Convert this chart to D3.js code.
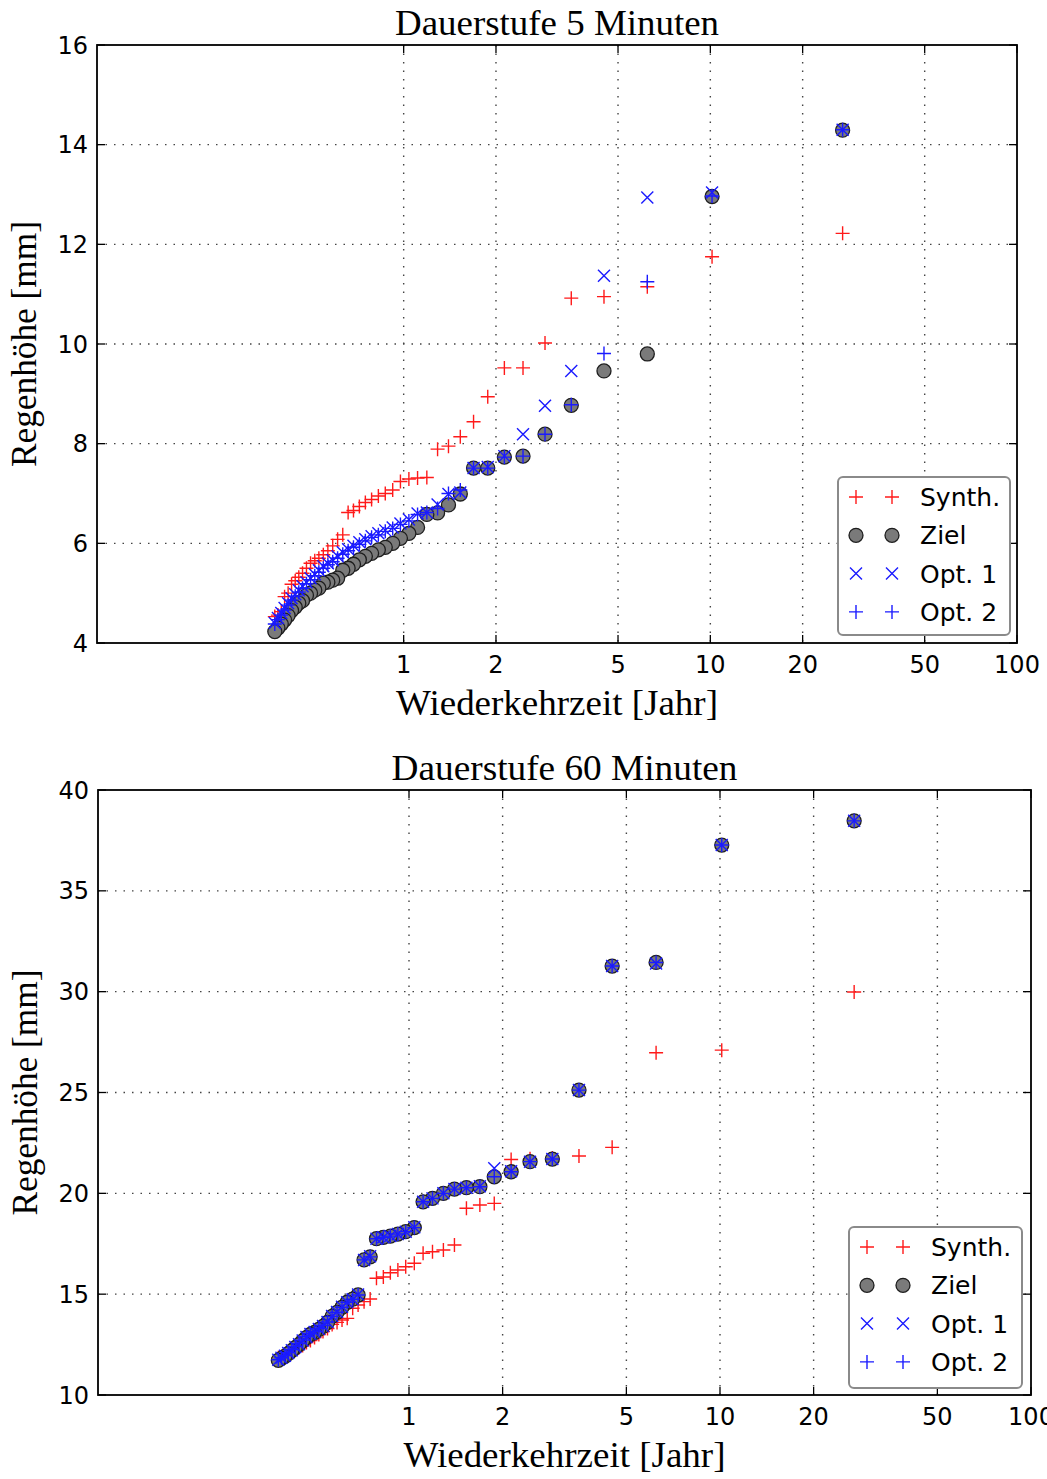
<!DOCTYPE html>
<html>
<head>
<meta charset="utf-8">
<script src="https://cdn.jsdelivr.net/npm/d3@7"></script>
<style>
  body { margin: 0; background: #fff; }
</style>
</head>
<body>
<div id="chart"></div>
<script>
// ---------------- data ----------------
// return period (years) of each rank, read off the x positions
const returnPeriod = [27.0, 10.13, 6.23, 4.50, 3.52, 2.89, 2.45, 2.13, 1.88, 1.69, 1.53, 1.40, 1.29, 1.19, 1.11,
  1.04, 0.976, 0.921, 0.871, 0.827, 0.786, 0.750, 0.717, 0.686, 0.659, 0.633, 0.609, 0.587, 0.566, 0.547,
  0.529, 0.513, 0.497, 0.482, 0.468, 0.455, 0.443, 0.431, 0.420, 0.409, 0.399, 0.389, 0.380];

const xTicks = [1, 2, 5, 10, 20, 50, 100];
const yTicks5 = [4, 6, 8, 10, 12, 14, 16];
const yTicks60 = [10, 15, 20, 25, 30, 35, 40];
const seriesNames = ["Synth.", "Ziel", "Opt. 1", "Opt. 2"];

// Dauerstufe 5 Minuten
const synth5 = [12.22, 11.75, 11.15, 10.95, 10.92, 10.02, 9.52, 9.52, 8.94, 8.44, 8.14, 7.95, 7.89, 7.32, 7.31,
  7.29, 7.24, 7.07, 7.00, 6.95, 6.88, 6.82, 6.74, 6.66, 6.62, 6.17, 6.08, 5.95, 5.85, 5.77,
  5.70, 5.65, 5.60, 5.50, 5.40, 5.32, 5.25, 5.18, 5.00, 4.93, 4.63, 4.56, 4.53];
const ziel5 = [14.29, 12.96, 9.80, 9.46, 8.77, 8.19, 7.75, 7.73, 7.51, 7.51, 6.99, 6.77, 6.61, 6.58, 6.32,
  6.20, 6.10, 6.00, 5.92, 5.87, 5.80, 5.74, 5.67, 5.58, 5.50, 5.46, 5.30, 5.26, 5.22, 5.20,
  5.10, 5.06, 5.00, 4.96, 4.85, 4.80, 4.72, 4.65, 4.55, 4.46, 4.38, 4.30, 4.23];
const opt1_5 = [14.30, 13.04, 12.94, 11.37, 9.46, 8.76, 8.19, 7.75, 7.53, 7.51, 7.02, 6.99, 6.78, 6.62, 6.60,
  6.48, 6.40, 6.32, 6.26, 6.20, 6.14, 6.08, 6.02, 5.95, 5.88, 5.82, 5.74, 5.66, 5.60, 5.54,
  5.46, 5.38, 5.30, 5.22, 5.14, 5.06, 4.98, 4.90, 4.80, 4.70, 4.60, 4.50, 4.40];
const opt2_5 = [14.30, 12.97, 11.25, 9.81, 8.78, 8.19, 7.75, 7.73, 7.51, 7.51, 7.07, 7.00, 6.70, 6.62, 6.58,
  6.45, 6.38, 6.30, 6.24, 6.17, 6.12, 6.05, 5.98, 5.92, 5.85, 5.78, 5.70, 5.63, 5.57, 5.50,
  5.42, 5.35, 5.27, 5.19, 5.10, 5.02, 4.94, 4.86, 4.76, 4.66, 4.56, 4.47, 4.38];

// Dauerstufe 60 Minuten
const synth60 = [29.98, 27.10, 26.97, 22.28, 21.85, 21.75, 21.72, 21.68, 19.50, 19.42, 19.26, 17.44, 17.19, 17.10, 17.03,
  16.53, 16.36, 16.20, 16.06, 15.85, 15.79, 14.76, 14.63, 14.46, 14.30, 13.80, 13.72, 13.60, 13.50, 13.30,
  13.15, 13.00, 12.85, 12.70, 12.60, 12.45, 12.35, 12.25, 12.15, 12.05, 11.98, 11.90, 11.85];
const ziel60 = [38.47, 37.27, 31.45, 31.27, 25.12, 21.70, 21.57, 21.07, 20.82, 20.33, 20.28, 20.21, 20.00, 19.75, 19.58,
  18.30, 18.10, 17.98, 17.88, 17.82, 17.75, 16.85, 16.70, 14.96, 14.75, 14.60, 14.35, 14.10, 13.90, 13.60,
  13.40, 13.25, 13.10, 13.00, 12.85, 12.68, 12.50, 12.35, 12.20, 12.05, 11.92, 11.82, 11.72];
const opt1_60 = [38.47, 37.27, 31.40, 31.27, 25.12, 21.70, 21.57, 21.10, 21.24, 20.35, 20.28, 20.21, 20.00, 19.75, 19.58,
  18.32, 18.10, 17.98, 17.88, 17.82, 17.75, 16.88, 16.70, 14.98, 14.75, 14.60, 14.38, 14.12, 13.92, 13.62,
  13.42, 13.27, 13.12, 13.02, 12.88, 12.70, 12.52, 12.38, 12.22, 12.08, 11.95, 11.85, 11.75];
const opt2_60 = [38.47, 37.27, 31.45, 31.27, 25.12, 21.70, 21.57, 21.07, 20.82, 20.33, 20.28, 20.21, 20.00, 19.75, 19.58,
  18.30, 18.10, 17.98, 17.88, 17.82, 17.75, 16.85, 16.70, 14.96, 14.75, 14.60, 14.35, 14.10, 13.90, 13.62,
  13.45, 13.30, 13.15, 13.05, 12.90, 12.72, 12.55, 12.40, 12.25, 12.10, 11.96, 11.85, 11.75];

// ---------------- styles ----------------
const markerStyle = [
  { kind: "plus", color: "#ff1a1a" },
  { kind: "circle", fill: "#7a7a7a", stroke: "#1e1e1e" },
  { kind: "cross", color: "#1a1aff" },
  { kind: "plus", color: "#1a1aff" }
];
const SERIF = "'Liberation Serif', 'DejaVu Serif', serif";
const SANS = "'DejaVu Sans', sans-serif";

const svg = d3.select("#chart").append("svg")
  .attr("width", 1047)
  .attr("height", 1479);

//==================================================================
function drawMarker(g, style, x, y) {
  if (style.kind === "circle") {
    g.append("circle").attr("cx", x).attr("cy", y).attr("r", 7)
      .attr("fill", style.fill).attr("stroke", style.stroke).attr("stroke-width", 1.3);
    return;
  }
  const s = style.kind === "plus" ? 7 : 6;
  const d = style.kind === "plus"
    ? `M${x - s},${y}H${x + s}M${x},${y - s}V${y + s}`
    : `M${x - s},${y - s}L${x + s},${y + s}M${x - s},${y + s}L${x + s},${y - s}`;
  g.append("path").attr("d", d).attr("fill", "none")
    .attr("stroke", style.color).attr("stroke-width", 1.4);
}

//==================================================================
function drawPanel(cfg) {
  const g = svg.append("g");
  const x = d3.scaleLog().domain([0.1, 100]).range([cfg.left, cfg.right]);
  const y = d3.scaleLinear().domain(cfg.yDomain).range([cfg.bottom, cfg.top]);

  // grid
  g.append("g").selectAll("line").data(xTicks.filter(t => t < 100)).enter().append("line")
    .attr("x1", d => x(d)).attr("x2", d => x(d)).attr("y1", cfg.top).attr("y2", cfg.bottom)
    .attr("stroke", "#444").attr("stroke-width", 1.4).attr("stroke-dasharray", "1.5,7");
  g.append("g").selectAll("line").data(cfg.yTicks.slice(1, -1)).enter().append("line")
    .attr("x1", cfg.left).attr("x2", cfg.right).attr("y1", d => y(d)).attr("y2", d => y(d))
    .attr("stroke", "#444").attr("stroke-width", 1.4).attr("stroke-dasharray", "1.5,7");

  // markers, series by series
  cfg.series.forEach((vals, i) => {
    const sg = g.append("g");
    vals.forEach((v, k) => drawMarker(sg, markerStyle[i], x(returnPeriod[k]), y(v)));
  });

  // ticks on all four sides, pointing inwards
  const tk = g.append("g").attr("stroke", "#000").attr("stroke-width", 1.3);
  xTicks.forEach(t => {
    tk.append("line").attr("x1", x(t)).attr("x2", x(t)).attr("y1", cfg.bottom).attr("y2", cfg.bottom - 8);
    tk.append("line").attr("x1", x(t)).attr("x2", x(t)).attr("y1", cfg.top).attr("y2", cfg.top + 8);
  });
  cfg.yTicks.forEach(t => {
    tk.append("line").attr("x1", cfg.left).attr("x2", cfg.left + 8).attr("y1", y(t)).attr("y2", y(t));
    tk.append("line").attr("x1", cfg.right).attr("x2", cfg.right - 8).attr("y1", y(t)).attr("y2", y(t));
  });

  // frame
  g.append("rect").attr("x", cfg.left).attr("y", cfg.top)
    .attr("width", cfg.right - cfg.left).attr("height", cfg.bottom - cfg.top)
    .attr("fill", "none").attr("stroke", "#000").attr("stroke-width", 1.8);

  // tick labels
  g.append("g").selectAll("text").data(xTicks).enter().append("text")
    .attr("x", d => x(d)).attr("y", cfg.bottom + 30)
    .attr("text-anchor", "middle").attr("font-family", SANS).attr("font-size", 24)
    .text(d => d);
  g.append("g").selectAll("text").data(cfg.yTicks).enter().append("text")
    .attr("x", cfg.left - 9).attr("y", d => y(d) + 8.5)
    .attr("text-anchor", "end").attr("font-family", SANS).attr("font-size", 24)
    .text(d => d);

  // title and axis labels (serif, stretched to the width of the original lettering)
  const cx = (cfg.left + cfg.right) / 2;
  g.append("text").attr("x", cx).attr("y", cfg.top - 10)
    .attr("text-anchor", "middle").attr("font-family", SERIF).attr("font-size", 35)
    .attr("textLength", cfg.titleLen).attr("lengthAdjust", "spacingAndGlyphs")
    .text(cfg.title);
  g.append("text").attr("x", cx).attr("y", cfg.bottom + 72)
    .attr("text-anchor", "middle").attr("font-family", SERIF).attr("font-size", 35)
    .attr("textLength", 322).attr("lengthAdjust", "spacingAndGlyphs")
    .text("Wiederkehrzeit [Jahr]");
  g.append("text")
    .attr("transform", `translate(${cfg.left - 61},${(cfg.top + cfg.bottom) / 2}) rotate(-90)`)
    .attr("text-anchor", "middle").attr("font-family", SERIF).attr("font-size", 35)
    .attr("textLength", 246).attr("lengthAdjust", "spacingAndGlyphs")
    .text("Regenhöhe [mm]");

  // legend
  const L = cfg.legend;
  const lg = g.append("g");
  lg.append("rect").attr("x", L.x).attr("y", L.y).attr("width", L.w).attr("height", L.h)
    .attr("rx", 5).attr("fill", "#fff").attr("stroke", "#8a8a8a").attr("stroke-width", 2);
  seriesNames.forEach((name, i) => {
    const ry = L.y + 20 + i * 38.3;
    drawMarker(lg, markerStyle[i], L.x + 18, ry);
    drawMarker(lg, markerStyle[i], L.x + 54, ry);
    lg.append("text").attr("x", L.x + 82).attr("y", ry + 9)
      .attr("font-family", SANS).attr("font-size", 25).text(name);
  });
}

drawPanel({
  title: "Dauerstufe 5 Minuten", titleLen: 324,
  left: 97, right: 1017, top: 45, bottom: 643,
  yDomain: [4, 16], yTicks: yTicks5,
  series: [synth5, ziel5, opt1_5, opt2_5],
  legend: { x: 838, y: 477, w: 172, h: 158 }
});

drawPanel({
  title: "Dauerstufe 60 Minuten", titleLen: 346,
  left: 98, right: 1031, top: 790, bottom: 1395,
  yDomain: [10, 40], yTicks: yTicks60,
  series: [synth60, ziel60, opt1_60, opt2_60],
  legend: { x: 849, y: 1227, w: 173, h: 161 }
});
</script>
</body>
</html>
